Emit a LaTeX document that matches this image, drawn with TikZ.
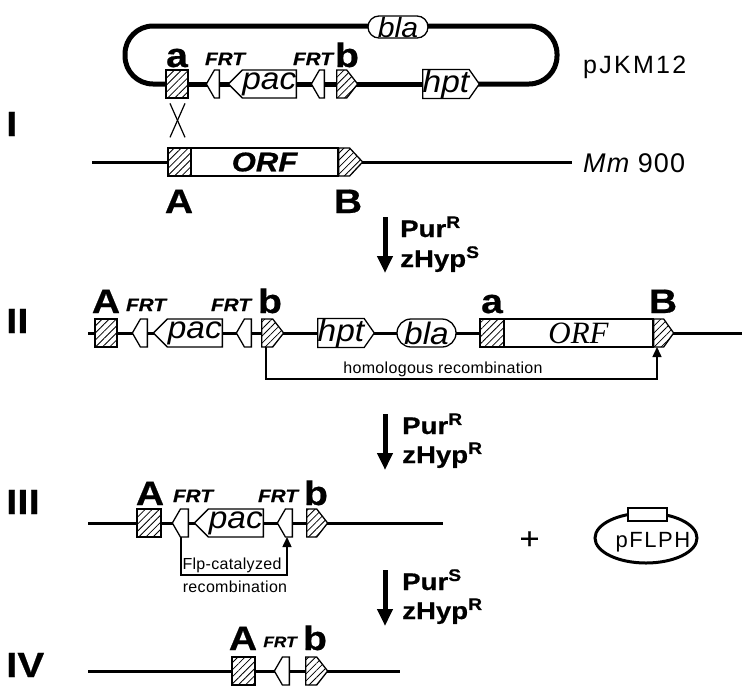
\documentclass[tikz,border=0pt]{standalone}
\usepackage{fontspec}
\setmainfont{Liberation Sans}
\newfontfamily\serifit{Liberation Serif}
\newfontfamily\labfont[FakeStretch=1.15,FakeBold=0.6]{Liberation Sans}
\newfontfamily\genefont[FakeStretch=1.08]{Liberation Sans}
\newfontfamily\spaced[LetterSpace=2]{Liberation Sans}
\newfontfamily\spacedw[LetterSpace=9]{Liberation Sans}
\newfontfamily\spacedm[LetterSpace=4]{Liberation Sans}
\newfontfamily\spacedp[LetterSpace=7]{Liberation Sans}
\usetikzlibrary{shapes.symbols,shapes.misc,shapes.geometric,patterns.meta,arrows.meta,calc}
\tikzset{
  dna/.style={line width=3pt},
  plas/.style={line width=5pt},
  el/.style={draw, line width=1.3pt, fill=white, inner sep=0pt, minimum height=28pt},
  hatch/.style={preaction={fill=white}, pattern={Lines[angle=45,distance=5pt,line width=0.8pt]}},
  gbox/.style={el, rectangle},
  sige/.style={el, signal, signal to=east, signal from=nowhere},
  sigw/.style={el, signal, signal to=west, signal from=nowhere},
  frt/.style={sigw, signal pointer angle=120, minimum width=15pt, anchor=east},
  pacbox/.style={sigw, signal pointer angle=90, minimum width=69pt, anchor=east, gene},
  bbox/.style={sige, hatch, signal pointer angle=104, minimum width=22pt, anchor=west},
  hptbox/.style={sige, signal pointer angle=110, minimum width=51pt, anchor=west, gene},
  blabox/.style={draw, rounded rectangle, line width=1.3pt, fill=white, inner sep=0pt, minimum width=59pt, gene},
  biglab/.style={font=\labfont\bfseries\fontsize{34}{34}\selectfont, anchor=base, inner sep=0pt},
  frtlab/.style={font=\labfont\bfseries\itshape\fontsize{18}{18}\selectfont, anchor=base, inner sep=0pt},
  gene/.style={font=\genefont\itshape\fontsize{31}{31}\selectfont},
  roman/.style={font=\labfont\bfseries\fontsize{35}{35}\selectfont, anchor=base west, inner sep=0pt},
  sel/.style={font=\labfont\bfseries\fontsize{24}{24}\selectfont, anchor=base west, inner sep=0pt},
  bigarrow/.style={line width=5pt, -{Triangle[length=17pt,width=15pt]}},
  bracket/.style={line width=1.5pt, -{Triangle[length=10pt,width=9pt]}},
  smalltxt/.style={font=\spaced\fontsize{16}{16}\selectfont, inner sep=0pt, anchor=base},
  lbl/.style={inner sep=0pt, anchor=base west},
}
\begin{document}
\begin{tikzpicture}[x=1pt,y=-1pt]
\useasboundingbox (0,0) rectangle (751,697);

% ---------- plasmid pJKM12 ----------
\coordinate (pa) at (177,84);
\coordinate (ph) at (447,84);
\draw[plas, rounded corners=28pt] (pa) -| (125,26) -| (557,84) -- (ph);
\draw[plas] (pa) -- (ph);
\node[gbox, hatch, minimum width=22pt] (aP) at (177,84) {};
\node[frt, minimum width=13pt] (frtP1) at (220,84) {};
\node[pacbox, minimum width=68pt] (pacP) at (297,84) {pac};
\node[frt, minimum width=13pt] (frtP2) at (325,84) {};
\node[bbox, minimum width=21pt] (bP) at (336,84) {};
\node[hptbox, minimum width=50pt] (hptP) at (422,84) {hpt};
\node[blabox, minimum width=60pt, minimum height=22pt, font=\genefont\itshape\fontsize{28}{28}\selectfont] (blaP) at (398,27) {bla};
\node[biglab] (laP) at (177,67) {a};
\node[frtlab] (lfP1) at (225,65) {FRT};
\node[frtlab] (lfP2) at (313,65) {FRT};
\node[biglab] (lbP) at (347,67) {b};
\node[lbl, font=\spacedw\fontsize{25}{25}\selectfont] (pjkm) at (583,73) {pJKM12};

% ---------- row I ----------
\node[roman] (rI) at (6,136) {I};
\coordinate (l1s) at (92,162);
\coordinate (l1e) at (572,162);
\draw[dna] (l1s) -- (l1e);
\node[gbox, hatch, minimum width=23pt] (AI) at (179.5,162) {};
\node[gbox, minimum width=147pt, font=\labfont\bfseries\itshape\fontsize{27}{27}\selectfont] (ORFI) at (264.5,162) {ORF};
\node[sige, hatch, signal pointer angle=94, minimum width=24pt, anchor=west] (BI) at (338,162) {};
\draw[line width=1.2pt] ($(aP.south)+(-7,5)$) -- ($(AI.north)+(5.5,-10)$);
\draw[line width=1.2pt] ($(aP.south)+(8,5)$) -- ($(AI.north)+(-9.5,-10)$);
\node[biglab] (lAI) at (179,213) {A};
\node[biglab] (lBI) at (348,213) {B};
\node[lbl, font=\spacedm\fontsize{27}{27}\selectfont] (mm) at (583,172) {\itshape Mm\upshape\ 900};

% ---------- arrow 1 ----------
\coordinate (a1s) at (385,217);
\coordinate (a1e) at (385,273);
\draw[bigarrow] (a1s) -- (a1e);
\node[sel] (s1a) at (400,237) {Pur\textsuperscript{R}};
\node[sel] (s1b) at (400,267) {zHyp\textsuperscript{S}};

% ---------- row II ----------
\node[roman] (rII) at (6,333) {II};
\coordinate (l2s) at (88,333);
\coordinate (l2e) at (742,333);
\draw[dna] (l2s) -- (l2e);
\node[gbox, hatch, minimum width=22pt] (AII) at (106,333) {};
\node[frt] (frtII1) at (148,333) {};
\node[pacbox] (pacII) at (223,333) {pac};
\node[frt] (frtII2) at (252,333) {};
\node[bbox] (bII) at (261,333) {};
\node[hptbox, minimum width=52pt] (hptII) at (317,333) {hpt};
\node[blabox, minimum height=28pt] (blaII) at (426.5,333) {bla};
\node[gbox, hatch, minimum width=24pt] (aII) at (492,333) {};
\node[gbox, minimum width=149pt, font=\serifit\itshape\fontsize{31}{31}\selectfont] (ORFII) at (578.5,333) {ORF};
\node[sige, hatch, signal pointer angle=109, minimum width=20pt, anchor=west] (BII) at (653,333) {};
\node[biglab] (lAII) at (106,313) {A};
\node[frtlab] (lfII1) at (146,311) {FRT};
\node[frtlab] (lfII2) at (231,311) {FRT};
\node[biglab] (lbII) at (270,313) {b};
\node[biglab] (laII) at (492,313) {a};
\node[biglab] (lBII) at (663,313) {B};
\draw[bracket] ($(bII.west)+(5,14)$) -- ++(0,32) -| ($(BII.west)+(4,14)$);
\node[smalltxt] (homol) at (443,373) {homologous recombination};

% ---------- arrow 2 ----------
\coordinate (a2s) at (385,414);
\coordinate (a2e) at (385,470);
\draw[bigarrow] (a2s) -- (a2e);
\node[sel] (s2a) at (402,434) {Pur\textsuperscript{R}};
\node[sel] (s2b) at (402,463) {zHyp\textsuperscript{R}};

% ---------- row III ----------
\node[roman] (rIII) at (6,514) {III};
\coordinate (l3s) at (88,523);
\coordinate (l3e) at (443,523);
\draw[dna] (l3s) -- (l3e);
\node[gbox, hatch, minimum width=24pt] (AIII) at (149,523) {};
\node[frt, minimum width=16pt] (frtIII1) at (189,523) {};
\node[pacbox] (pacIII) at (264,523) {pac};
\node[frt] (frtIII2) at (293,523) {};
\node[bbox, minimum width=21pt] (bIII) at (306,523) {};
\node[biglab] (lAIII) at (150,505) {A};
\node[frtlab] (lfIII1) at (193,502) {FRT};
\node[frtlab] (lfIII2) at (278,502) {FRT};
\node[biglab] (lbIII) at (316,505) {b};
\draw[bracket] ($(frtIII1.east)+(-8,14)$) -- ++(0,38) -| ($(frtIII2.east)+(-6,14)$);
\node[smalltxt] (flp1) at (232,569) {Flp-catalyzed};
\node[smalltxt] (flp2) at (235,592) {recombination};

% plus and pFLPH
\node[font=\labfont\fontsize{30}{30}\selectfont, inner sep=0pt] (plus) at (529.5,540) {+};
\node[ellipse, draw, line width=3pt, minimum width=102pt, minimum height=50pt, inner sep=0pt] (pfl) at (646,538) {};
\node[draw, fill=white, line width=1.2pt, minimum width=39pt, minimum height=13pt, inner sep=0pt] (pflbox) at (647.5,514.5) {};
\node[font=\spacedp\fontsize{22}{22}\selectfont, inner sep=0pt] (pfltxt) at (653,542) {pFLPH};

% ---------- arrow 3 ----------
\coordinate (a3s) at (385,570);
\coordinate (a3e) at (385,626);
\draw[bigarrow] (a3s) -- (a3e);
\node[sel] (s3a) at (402,590) {Pur\textsuperscript{S}};
\node[sel] (s3b) at (402,619) {zHyp\textsuperscript{R}};

% ---------- row IV ----------
\node[roman] (rIV) at (6,677) {IV};
\coordinate (l4s) at (88,671);
\coordinate (l4e) at (400,671);
\draw[dna] (l4s) -- (l4e);
\node[gbox, hatch, minimum width=23pt] (AIV) at (243.5,671) {};
\node[frt] (frtIV) at (290,671) {};
\node[bbox] (bIV) at (305,671) {};
\node[biglab] (lAIV) at (243,650) {A};
\node[frtlab, font=\labfont\bfseries\itshape\fontsize{15}{15}\selectfont] (lfIV) at (280,647) {FRT};
\node[biglab] (lbIV) at (315,650) {b};
\end{tikzpicture}
\end{document}
